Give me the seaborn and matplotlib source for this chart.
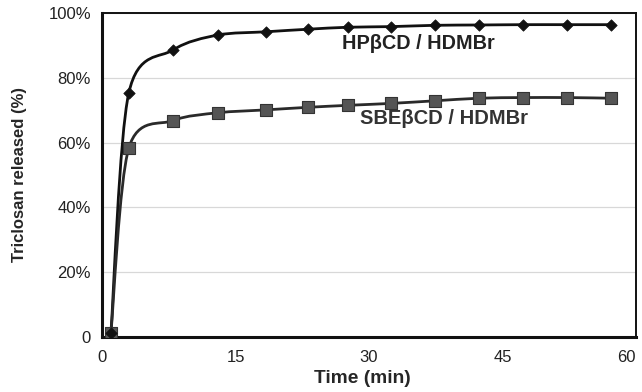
import numpy as np
import matplotlib
matplotlib.use("Agg")
import matplotlib.pyplot as plt
from matplotlib.path import Path
from matplotlib.patches import PathPatch
from matplotlib.ticker import FixedLocator
import seaborn as sns

# values
time_min = [1, 3, 8, 13, 18.4, 23.2, 27.6, 32.5, 37.4, 42.4, 47.3, 52.3, 57.2]
release_hp = [1.2, 75.2, 88.6, 93.2, 94.2, 95.0, 95.6, 95.8, 96.2, 96.3, 96.4, 96.4, 96.4]
release_sbe = [1.2, 58.2, 66.8, 69.2, 70.1, 70.9, 71.5, 72.1, 72.9, 73.7, 73.9, 73.9, 73.7]

x_ticks = [0, 15, 30, 45, 60]
y_ticks = [0, 20, 40, 60, 80, 100]
y_tick_labels = ["0", "20%", "40%", "60%", "80%", "100%"]


def smooth_path(x, y, k=0.15):
    # spreadsheet-style smoothed line: cubic Bezier through every point
    n = len(x)
    verts = [(x[0], y[0])]
    codes = [Path.MOVETO]
    for i in range(n - 1):
        xp, yp = (x[i - 1], y[i - 1]) if i > 0 else (x[i], y[i])
        xn, yn = (x[i + 2], y[i + 2]) if i + 2 < n else (x[i + 1], y[i + 1])
        c1 = (x[i] + (x[i + 1] - xp) * k, y[i] + (y[i + 1] - yp) * k)
        c2 = (x[i + 1] - (xn - x[i]) * k, y[i + 1] - (yn - y[i]) * k)
        verts += [c1, c2, (x[i + 1], y[i + 1])]
        codes += [Path.CURVE4] * 3
    return Path(verts, codes)


sns.set_style("white")
plt.rcParams['font.family'] = ['Liberation Sans', 'DejaVu Sans']

fig = plt.figure(figsize=(6.42, 3.92), dpi=100)
ax = fig.add_axes([102 / 642, 1 - 337 / 392, 534 / 642, 324 / 392])

ax.yaxis.grid(True, color="#d8d8d8", lw=0.9)
ax.set_axisbelow(True)

ax.add_patch(PathPatch(smooth_path(time_min, release_hp), fill=False,
                       edgecolor="#111111", lw=2.0, zorder=2))
ax.add_patch(PathPatch(smooth_path(time_min, release_sbe), fill=False,
                       edgecolor="#2a2a2a", lw=2.0, zorder=2))

sns.scatterplot(x=time_min, y=release_sbe, marker="s", s=70, color="#555555",
                edgecolor="#333333", linewidth=0.8, ax=ax, zorder=3)
sns.scatterplot(x=time_min, y=release_hp, marker="D", s=34, color="#111111",
                edgecolor="#111111", linewidth=0.5, ax=ax, zorder=4)

ax.text(35.5, 90.7, "HP\u03b2CD / HDMBr", fontsize=14.3, fontweight="bold",
        ha="center", va="center", color="#222222")
ax.text(38.4, 67.4, "SBE\u03b2CD / HDMBr", fontsize=14.5, fontweight="bold",
        ha="center", va="center", color="#333333")

ax.set_xlim(0, 60)
ax.set_ylim(0, 100)
ax.xaxis.set_major_locator(FixedLocator(x_ticks))
ax.set_yticks(y_ticks)
ax.set_yticklabels(y_tick_labels)
ax.tick_params(axis="both", direction="out", length=5, width=1.2,
               labelsize=12, colors="#222222", pad=3)
ax.tick_params(axis="x", pad=4)
# last x label sits against the figure edge, as in the original
ax.xaxis.get_major_ticks()[-1].label1.set_horizontalalignment("right")

ax.set_xlabel("Time (min)", fontsize=13.8, fontweight="bold")
ax.xaxis.set_label_coords(0.487, -0.102)
ax.set_ylabel("Triclosan released (%)", fontsize=12, fontweight="bold", labelpad=15)

for side in ["left", "bottom"]:
    ax.spines[side].set_linewidth(2.2)
    ax.spines[side].set_color("#111111")
for side in ["top", "right"]:
    ax.spines[side].set_visible(True)
    ax.spines[side].set_linewidth(1.4)
    ax.spines[side].set_color("#111111")

fig.savefig("out.png", dpi=100)
